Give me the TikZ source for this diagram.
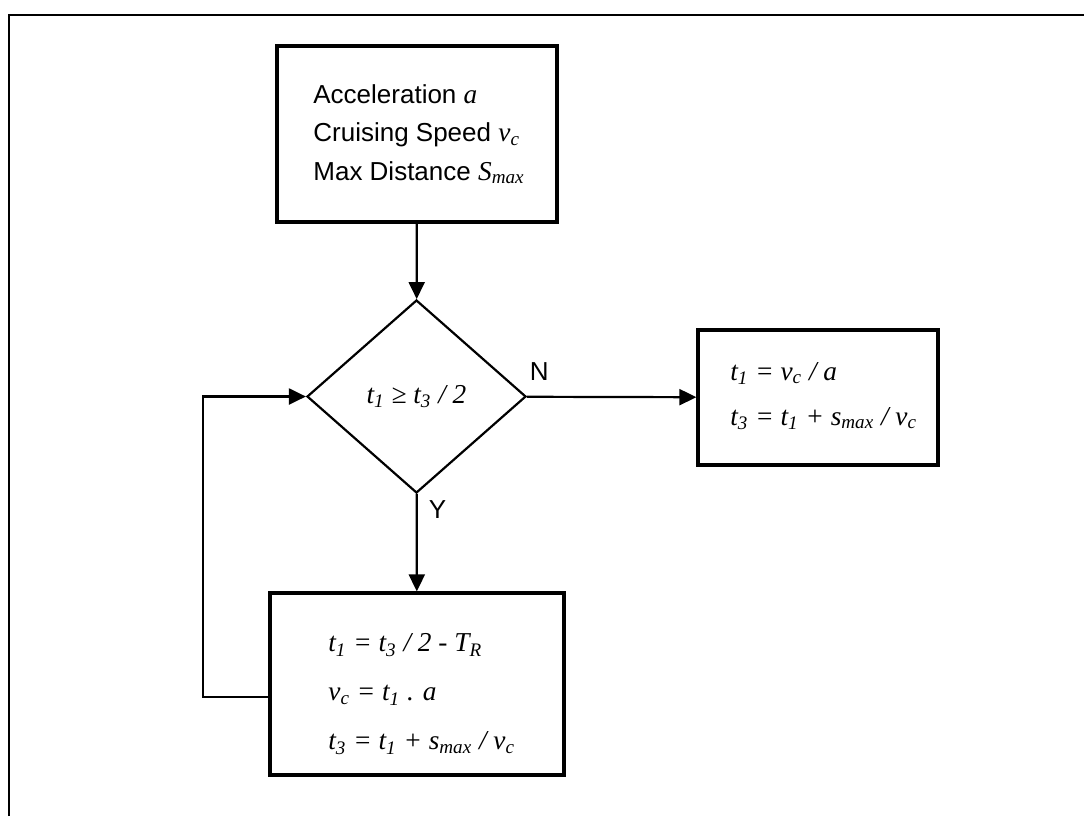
\documentclass[tikz,border=0pt]{standalone}
\usepackage{fontspec}
\setmainfont{Liberation Sans}
\newfontfamily\tms[Scale=1.05]{Liberation Serif}
\newcommand{\mv}[1]{{\tms\itshape #1}}
\usetikzlibrary{arrows.meta, positioning, shapes.geometric}

\begin{document}
\begin{tikzpicture}[
    x=0.5pt, y=-0.5pt,
    blk/.style={draw, rectangle, line width=1.6pt, inner sep=0pt},
    dec/.style={draw, diamond, line width=1.1pt, inner sep=0pt, shape aspect=1.135, minimum width=109.5pt, minimum height=96.5pt},
    txt/.style={align=left, inner sep=0pt, anchor=west},
    flow/.style={-{Triangle[length=8.5pt, width=8pt]}, line width=1.1pt},
    font=\fontsize{13}{15}\selectfont
]
\useasboundingbox (0,0) rectangle (1084,816);
% outer frame, only top and left edges show
\draw[line width=1pt] (9,816) -- (9,15) -- (1084,15);

\node[blk, minimum width=140pt, minimum height=88pt] (in) at (417,134) {};
\node[txt, font=\fontsize{13}{19.25}\selectfont] (int) at (313,134)
    {Acceleration \mv{a}\\Cruising Speed \mv{v\textsubscript{c}}\\Max Distance \mv{S\textsubscript{max}}};

\node[dec] (chk) at (416.5,396.5) {\mv{t\textsubscript{1} ≥ t\textsubscript{3} / 2}};

\node[blk, minimum width=120pt, minimum height=67.5pt] (cr) at (818,397.5) {};
\node[txt, font=\fontsize{13}{22.5}\selectfont] (crt) at (730,396)
    {\mv{t\textsubscript{1} = v\textsubscript{c} / a}\\\mv{t\textsubscript{3} = t\textsubscript{1} + s\textsubscript{max} / v\textsubscript{c}}};

\node[blk, minimum width=147pt, minimum height=91pt] (rd) at (417,684) {};
\node[txt, font=\fontsize{13}{24.5}\selectfont] (rdt) at (328,694)
    {\mv{t\textsubscript{1} = t\textsubscript{3} / 2 - T\textsubscript{R}}\\\mv{v\textsubscript{c} = t\textsubscript{1} . a}\\\mv{t\textsubscript{3} = t\textsubscript{1} + s\textsubscript{max} / v\textsubscript{c}}};

\coordinate (back) at (203,697);

\draw[flow] (in) -- (chk);
\draw[flow] (chk) -- node[inner sep=0pt, above right=7.5pt and 1pt, pos=0] (n) {N} (cr);
\draw[flow] (chk) -- node[inner sep=0pt, below right=3pt and 5.5pt, pos=0] (y) {Y} (rd);
\draw[flow] (back -| rd.west) -- (back) |- (chk);
\end{tikzpicture}
\end{document}
